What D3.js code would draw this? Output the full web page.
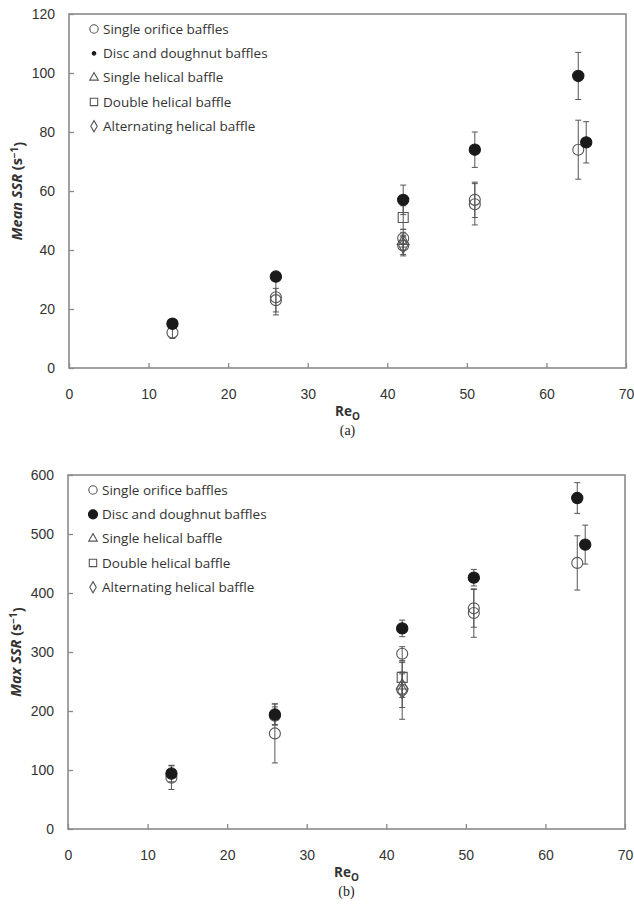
<!DOCTYPE html>
<html>
<head>
<meta charset="utf-8">
<script src="https://cdn.jsdelivr.net/npm/d3@7"></script>
<style>
  body { margin: 0; background: #fff; }
  svg { display: block; font-family: "Open Sans", sans-serif; }
</style>
</head>
<body>
<svg width="634" height="911"></svg>
<script>
// tick values
var reTicks = [0, 10, 20, 30, 40, 50, 60, 70];
var meanTicks = [0, 20, 40, 60, 80, 100, 120];
var maxTicks = [0, 100, 200, 300, 400, 500, 600];

var legendLabels = ["Single orifice baffles", "Disc and doughnut baffles",
  "Single helical baffle", "Double helical baffle", "Alternating helical baffle"];

// single orifice baffles (open circle)
var orificeRe      = [13, 26, 26, 42, 42, 51, 51, 64];
var orificeMean    = [12, 24, 23, 44, 41.5, 57, 55.5, 74];
var orificeMeanErr = [2, 6, 4, 3, 3.5, 6, 7, 10];
var orificeMax     = [87, 162, 192, 297, 236, 374, 366, 451];
var orificeMaxErr  = [20, 50, 15, 12, 30, 32, 41, 46];

// disc and doughnut baffles (filled circle)
var discRe      = [13, 26, 42, 51, 64, 65];
var discMean    = [15, 31, 57, 74, 99, 76.5];
var discMeanErr = [1, 1.5, 5, 6, 8, 7];
var discMax     = [94, 194, 340, 426, 561, 482];
var discMaxErr  = [14, 18, 14, 14, 26, 33];

// helical baffles
var singleHelRe = [42], singleHelMean = [43], singleHelMeanErr = [3], singleHelMax = [243], singleHelMaxErr = [20];
var doubleHelRe = [42], doubleHelMean = [51], doubleHelMeanErr = [4], doubleHelMax = [257], doubleHelMaxErr = [28];
var altHelRe = [42], altHelMean = [41.5], altHelMeanErr = [3], altHelMax = [234], altHelMaxErr = [48];

var svg = d3.select("svg");
var grey = "#555", axisGrey = "#8a8a8a", textCol = "#333";

function zip(xs, ys, es) {
  return xs.map(function (x, i) { return { x: x, y: ys[i], e: es[i] }; });
}

function marker(g, shape, size, filled) {
  var sym = { circle: d3.symbolCircle, triangle: d3.symbolTriangle,
              square: d3.symbolSquare, diamond: d3.symbolDiamond }[shape];
  return g.append("path")
    .attr("d", d3.symbol().type(sym).size(size)())
    .attr("fill", filled ? "#1a1a1a" : "none")
    .attr("stroke", filled ? "#1a1a1a" : grey)
    .attr("stroke-width", 1.1);
}

// legend symbol sizes (open markers)
var legendSize = { circle: 55, triangle: 32, square: 55, diamond: 36 };

function drawPanel(cfg) {
  var W = 557, H = 354;
  var g = svg.append("g").attr("transform", "translate(" + cfg.left + "," + cfg.top + ")");
  var x = d3.scaleLinear().domain([0, 70]).range([0, W]);
  var y = d3.scaleLinear().domain([0, cfg.yMax]).range([H, 0]);

  var xAxis = g.append("g").attr("transform", "translate(0," + H + ")")
    .call(d3.axisBottom(x).tickValues(reTicks).tickSizeInner(-5).tickSizeOuter(0).tickPadding(21));
  var yAxis = g.append("g")
    .call(d3.axisLeft(y).tickValues(cfg.yTicks).tickSizeInner(-5).tickSizeOuter(0).tickPadding(14));
  [xAxis, yAxis].forEach(function (a) {
    a.select(".domain").remove();
    a.selectAll("line").attr("stroke", axisGrey).attr("stroke-width", 1.3);
    a.selectAll("text").attr("fill", textCol).style("font-size", "14px");
  });

  g.append("rect").attr("width", W).attr("height", H)
    .attr("fill", "none").attr("stroke", axisGrey).attr("stroke-width", 1.6);

  // error bars + markers
  cfg.series.forEach(function (s) {
    var pts = zip(s.re, s.vals, s.errs);
    var eb = g.append("g").selectAll("g").data(pts).enter().append("g")
      .attr("stroke", grey).attr("stroke-width", 1);
    eb.append("line")
      .attr("x1", function (d) { return x(d.x); }).attr("x2", function (d) { return x(d.x); })
      .attr("y1", function (d) { return y(d.y - d.e); }).attr("y2", function (d) { return y(d.y + d.e); });
    [-1, 1].forEach(function (sgn) {
      eb.append("line")
        .attr("x1", function (d) { return x(d.x) - 3; }).attr("x2", function (d) { return x(d.x) + 3; })
        .attr("y1", function (d) { return y(d.y + sgn * d.e); }).attr("y2", function (d) { return y(d.y + sgn * d.e); });
    });
  });
  cfg.series.forEach(function (s) {
    zip(s.re, s.vals, s.errs).forEach(function (d) {
      marker(g, s.shape, s.size, s.filled)
        .attr("transform", "translate(" + x(d.x) + "," + y(d.y) + ")");
    });
  });

  // legend
  var lg = g.append("g").attr("transform", "translate(25,15)");
  cfg.series.forEach(function (s, i) {
    var row = lg.append("g").attr("transform", "translate(0," + (i * 24.3) + ")");
    var sz = s.filled ? cfg.legendDot : legendSize[s.shape];
    marker(row, s.shape, sz, s.filled);
    row.append("text").attr("x", 9).attr("dy", "0.35em")
      .attr("fill", textCol).style("font-size", "13.5px").text(legendLabels[i]);
  });

  // axis titles
  var yl = g.append("text")
    .attr("transform", "translate(" + (-47) + "," + (H / 2) + ") rotate(-90)")
    .attr("text-anchor", "middle").attr("fill", textCol)
    .style("font-size", "14.5px").style("font-weight", "bold");
  yl.append("tspan").style("font-style", "italic").text(cfg.yName + " SSR");
  yl.append("tspan").text(" (s");
  yl.append("tspan").attr("dy", "-0.4em").style("font-size", "10px").text("\u22121");
  yl.append("tspan").attr("dy", "0.4em").text(")");

  var xl = g.append("text").attr("x", W / 2).attr("y", H + 48)
    .attr("text-anchor", "middle").attr("fill", textCol)
    .style("font-size", "13.5px").style("font-weight", "bold");
  xl.append("tspan").text("Re");
  xl.append("tspan").attr("dy", "0.35em").style("font-size", "10px").text("O");

  g.append("text").attr("x", W / 2).attr("y", H + 67)
    .attr("text-anchor", "middle").attr("fill", "#222")
    .style("font-family", "'Liberation Serif', serif").style("font-size", "14px")
    .text(cfg.tag);
}

drawPanel({
  left: 69, top: 14, yMax: 120, yTicks: meanTicks, yName: "Mean", tag: "(a)", legendDot: 10,
  series: [
    { shape: "circle", size: 95, filled: false, re: orificeRe, vals: orificeMean, errs: orificeMeanErr },
    { shape: "circle", size: 100, filled: true, re: discRe, vals: discMean, errs: discMeanErr },
    { shape: "triangle", size: 60, filled: false, re: singleHelRe, vals: singleHelMean, errs: singleHelMeanErr },
    { shape: "square", size: 100, filled: false, re: doubleHelRe, vals: doubleHelMean, errs: doubleHelMeanErr },
    { shape: "diamond", size: 70, filled: false, re: altHelRe, vals: altHelMean, errs: altHelMeanErr }
  ]
});

drawPanel({
  left: 68, top: 475, yMax: 600, yTicks: maxTicks, yName: "Max", tag: "(b)", legendDot: 65,
  series: [
    { shape: "circle", size: 95, filled: false, re: orificeRe, vals: orificeMax, errs: orificeMaxErr },
    { shape: "circle", size: 100, filled: true, re: discRe, vals: discMax, errs: discMaxErr },
    { shape: "triangle", size: 60, filled: false, re: singleHelRe, vals: singleHelMax, errs: singleHelMaxErr },
    { shape: "square", size: 100, filled: false, re: doubleHelRe, vals: doubleHelMax, errs: doubleHelMaxErr },
    { shape: "diamond", size: 70, filled: false, re: altHelRe, vals: altHelMax, errs: altHelMaxErr }
  ]
});
</script>
</body>
</html>
